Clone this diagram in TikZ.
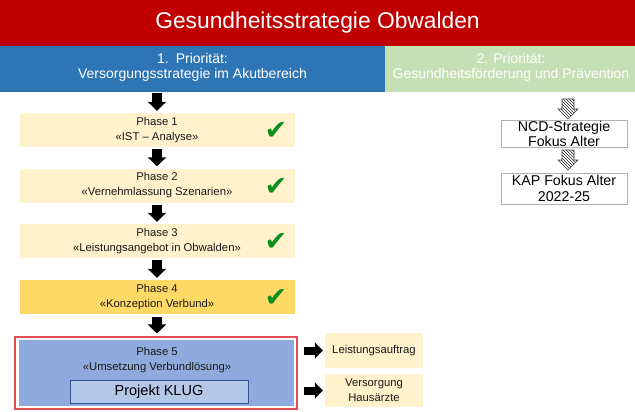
\documentclass[tikz,border=0pt]{standalone}
\usepackage{fontspec}
\setmainfont{Liberation Sans}
\newfontfamily\symfont{DejaVu Sans}
\usetikzlibrary{arrows.meta,patterns}
\definecolor{titlered}{HTML}{C00000}
\definecolor{prioblue}{HTML}{2E75B6}
\definecolor{priogreen}{HTML}{C5E0B4}
\definecolor{phaselight}{HTML}{FFF2CC}
\definecolor{phasegold}{HTML}{FFD966}
\definecolor{phaseblue}{HTML}{8FAADC}
\definecolor{klugblue}{HTML}{B4C7E7}
\definecolor{klugline}{HTML}{2F5597}
\definecolor{outlinered}{HTML}{E05050}
\definecolor{checkgreen}{HTML}{0A8F1E}
\definecolor{txt}{HTML}{1A1A1A}
\begin{document}
\begin{tikzpicture}[x=1pt,y=-1pt,
  bar/.style={inner sep=0pt},
  bartext/.style={inner sep=0pt, text=white, align=center, font=\fontsize{14}{14.5}\selectfont},
  phasebox/.style={inner sep=0pt, minimum width=275pt, minimum height=34pt, text=txt, align=center, font=\fontsize{11.3}{15}\selectfont},
  sidebox/.style={inner sep=0pt, fill=phaselight, minimum width=98pt, text=txt, align=center, font=\fontsize{11.3}{15}\selectfont},
  ncdbox/.style={inner sep=0pt, draw=black!30, fill=white, minimum width=126pt, text=black, align=center},
  checkmark/.style={text=checkgreen, font=\symfont\fontsize{27}{27}\selectfont, inner sep=0pt},
  blkarrow/.style={line width=10pt, draw=black, -{Triangle[width=18pt,length=9pt]}},
  sidearrow/.style={line width=8pt, draw=black, -{Triangle[width=16pt,length=8pt]}},
  hatcharrow/.style={draw=black!75, line width=0.6pt, pattern=north west lines, pattern color=black!85}
]
\useasboundingbox (0,0) rectangle (635,412);

% header bars
\node[bar, fill=titlered, minimum width=635pt, minimum height=46pt, text=white, font=\fontsize{22.8}{26}\selectfont] (title) at (317.5,23) {Gesundheitsstrategie Obwalden};
\node[bar, fill=prioblue, minimum width=385pt, minimum height=46pt] (prio1) at (192.5,69) {};
\node[bar, fill=priogreen, minimum width=250pt, minimum height=46pt] (prio2) at (510,69) {};
\node[bartext] (prio1t) at (192.5,67.5) {1.\enspace Priorität:\\Versorgungsstrategie im Akutbereich};
\node[bartext] (prio2t) at (511,67.5) {2. Priorität:\\Gesundheitsförderung und Prävention};

% phases
\node[phasebox, fill=phaselight] (p1) at (157,130) {Phase 1\\«IST – Analyse»};
\node[phasebox, fill=phaselight] (p2) at (157,185.5) {Phase 2\\«Vernehmlassung Szenarien»};
\node[phasebox, fill=phaselight] (p3) at (157,241) {Phase 3\\«Leistungsangebot in Obwalden»};
\node[phasebox, fill=phasegold] (p4) at (157,297) {Phase 4\\«Konzeption Verbund»};

\node[checkmark] (c1) at (276,131) {✔};
\node[checkmark] (c2) at (276,186.5) {✔};
\node[checkmark] (c3) at (276,242) {✔};
\node[checkmark] (c4) at (276,298) {✔};

% phase 5 group
\node[draw=outlinered, line width=1.1pt, minimum width=282pt, minimum height=72pt, inner sep=0pt] (grp) at (156,373) {};
\node[fill=phaseblue, minimum width=275pt, minimum height=66pt, inner sep=0pt] (p5) at (156.5,373) {};
\node[text=txt, align=center, inner sep=0pt, font=\fontsize{11.3}{15}\selectfont] (p5t) at (157,360.5) {Phase 5\\«Umsetzung Verbundlösung»};
\node[draw=klugline, line width=0.8pt, fill=klugblue, minimum width=178pt, minimum height=23pt, inner sep=0pt, text=black, font=\fontsize{14.5}{16}\selectfont] (klug) at (159,391.5) {Projekt KLUG};

% side boxes
\node[sidebox, minimum height=35pt] (la) at (374,350.5) {Leistungsauftrag};
\node[sidebox, minimum height=33pt] (vh) at (374,390.5) {Versorgung\\Hausärzte};

% right column
\node[ncdbox, minimum height=27pt, font=\fontsize{14.2}{15}\selectfont] (ncd) at (564,133.5) {NCD-Strategie\\Fokus Alter};
\node[ncdbox, minimum height=31pt, font=\fontsize{14.2}{16}\selectfont] (kap) at (564,188.5) {KAP Fokus Alter\\2022-25};

% hatched block arrows
\coordinate (h1) at (568,99);
\coordinate (h2) at (568,150);
\draw[hatcharrow] (h1) ++(-6,0) -- ++(12,0) -- ++(0,10) -- ++(4,0) -- ++(-10,10) -- ++(-10,-10) -- ++(4,0) -- cycle;
\draw[hatcharrow] (h2) ++(-6,0) -- ++(12,0) -- ++(0,10) -- ++(4,0) -- ++(-10,10) -- ++(-10,-10) -- ++(4,0) -- cycle;

% arrows
\draw[blkarrow, shorten <=1pt, shorten >=2pt] (prio1.south -| p1) -- (p1.north);
\draw[blkarrow, shorten <=2pt, shorten >=2pt] (p1.south) -- (p2.north);
\draw[blkarrow, shorten <=2pt, shorten >=2pt] (p2.south) -- (p3.north);
\draw[blkarrow, shorten <=2pt, shorten >=2pt] (p3.south) -- (p4.north);
\draw[blkarrow, shorten <=3pt, shorten >=3pt] (p4.south) -- (grp.north -| p4);
\draw[sidearrow, shorten <=6pt, shorten >=2pt] (grp.east |- la) -- (la.west);
\draw[sidearrow, shorten <=6pt, shorten >=2pt] (grp.east |- vh) -- (vh.west);
\end{tikzpicture}
\end{document}
